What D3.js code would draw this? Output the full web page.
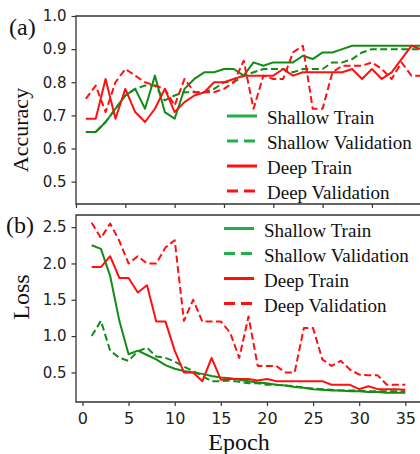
<!DOCTYPE html>
<html>
<head>
<meta charset="utf-8">
<script src="https://cdn.jsdelivr.net/npm/d3@7"></script>
<style>
  html, body { margin: 0; padding: 0; background: #fff; }
  svg { display: block; }
  .tick text { font-family: "DejaVu Sans", sans-serif; fill: #222; }
  .serif { font-family: "Liberation Serif", "Times New Roman", serif; fill: #111; }
</style>
</head>
<body>
<div id="chart"></div>
<script>
// data
const epochs = [1,2,3,4,5,6,7,8,9,10,11,12,13,14,15,16,17,18,19,20,21,22,23,24,25,26,27,28,29,30,31,32,33,34,35];

const accShallowTrain = [0.65,0.65,0.68,0.72,0.76,0.78,0.72,0.82,0.71,0.69,0.78,0.81,0.83,0.83,0.84,0.84,0.82,0.86,0.85,0.86,0.86,0.86,0.88,0.87,0.89,0.89,0.90,0.91,0.91,0.91,0.91,0.91,0.91,0.91,0.91];
const accShallowVal = [0.65,0.65,0.68,0.72,0.76,0.78,0.79,0.79,0.745,0.76,0.77,0.77,0.77,0.78,0.80,0.80,0.82,0.83,0.84,0.84,0.84,0.83,0.84,0.84,0.84,0.86,0.86,0.87,0.89,0.90,0.90,0.90,0.90,0.90,0.90];
const accDeepTrain = [0.69,0.69,0.81,0.69,0.78,0.71,0.68,0.72,0.78,0.71,0.74,0.76,0.77,0.80,0.80,0.81,0.82,0.82,0.82,0.82,0.84,0.82,0.83,0.83,0.83,0.83,0.83,0.84,0.81,0.84,0.81,0.83,0.87,0.91,0.90];
const accDeepVal = [0.75,0.79,0.71,0.80,0.84,0.82,0.80,0.79,0.78,0.73,0.81,0.77,0.77,0.77,0.78,0.80,0.865,0.72,0.82,0.81,0.81,0.89,0.91,0.72,0.72,0.83,0.85,0.85,0.85,0.86,0.84,0.81,0.86,0.82,0.82];

const lossShallowTrain = [2.25,2.2,1.83,1.21,0.75,0.8,0.74,0.68,0.6,0.55,0.52,0.5,0.48,0.45,0.43,0.42,0.4,0.38,0.36,0.35,0.33,0.32,0.3,0.29,0.27,0.26,0.25,0.25,0.24,0.24,0.23,0.23,0.22,0.22,0.22];
const lossShallowVal = [1.0,1.21,0.8,0.7,0.66,0.79,0.84,0.72,0.7,0.65,0.58,0.52,0.45,0.38,0.38,0.39,0.37,0.35,0.35,0.33,0.33,0.32,0.31,0.29,0.28,0.27,0.26,0.25,0.25,0.25,0.24,0.24,0.24,0.24,0.24];
const lossDeepTrain = [1.95,1.95,2.1,1.8,1.8,1.6,1.7,1.2,1.2,0.8,0.5,0.5,0.38,0.7,0.4,0.41,0.41,0.41,0.39,0.41,0.38,0.38,0.38,0.38,0.38,0.38,0.33,0.33,0.33,0.27,0.31,0.27,0.27,0.27,0.26];
const lossDeepVal = [2.56,2.35,2.55,2.31,2.0,2.1,2.0,2.0,2.22,2.32,1.21,1.5,1.2,1.2,1.2,1.05,0.7,1.27,0.59,0.59,0.59,0.5,0.5,1.11,1.11,0.68,0.59,0.66,0.54,0.47,0.46,0.46,0.33,0.33,0.33];

const accTicks = [0.5,0.6,0.7,0.8,0.9,1.0];
const lossTicks = [0.5,1.0,1.5,2.0,2.5];
const epochTicks = [0,5,10,15,20,25,30,35];
const seriesNames = ["Shallow Train","Shallow Validation","Deep Train","Deep Validation"];

const W = 420, H = 454;
const green = "#138c17", red = "#ff1010";
const legendGreen = "#1fb04c";
const styles = [
  {color: green, legend: legendGreen, dash: null},
  {color: green, legend: legendGreen, dash: "7,3.5"},
  {color: red, legend: red, dash: null},
  {color: red, legend: red, dash: "7,3.5"}
];

const svg = d3.select("#chart").append("svg")
  .attr("width", W)
  .attr("height", H);

function panel(opts) {
  const g = svg.append("g");
  const x = d3.scaleLinear().domain(opts.xDomain).range(opts.xRange);
  const y = d3.scaleLinear().domain(opts.yDomain).range(opts.yRange);

  // lines
  const line = d3.line()
    .x((d, i) => x(epochs[i]))
    .y(d => y(d));
  opts.series.forEach((s, i) => {
    g.append("path")
      .datum(s)
      .attr("fill", "none")
      .attr("stroke", styles[i].color)
      .attr("stroke-width", 2)
      .attr("stroke-dasharray", styles[i].dash)
      .attr("stroke-linejoin", "round")
      .attr("d", line);
  });

  // spines
  const x0 = opts.xRange[0], x1 = opts.xRange[1];
  const y0 = opts.yRange[1], y1 = opts.yRange[0];
  g.append("path")
    .attr("d", `M${x1},${y0}H${x0}V${y1}H${x1}V${y0}`)
    .attr("fill", "none")
    .attr("stroke", "#333")
    .attr("stroke-width", 1.3);

  // axes
  const yAxis = d3.axisLeft(y).tickValues(opts.yTicks).tickSize(4.5).tickPadding(5)
    .tickFormat(d3.format(".1f"));
  const gy = g.append("g").attr("transform", `translate(${x0},0)`).call(yAxis);
  gy.select(".domain").remove();
  gy.selectAll(".tick line").attr("stroke", "#333").attr("stroke-width", 1.2);
  gy.selectAll(".tick text").style("font-size", "15px");

  const xAxis = d3.axisBottom(x).tickValues(epochTicks).tickSize(4).tickPadding(7);
  if (!opts.xLabels) xAxis.tickFormat("");
  const gx = g.append("g").attr("transform", `translate(0,${y1})`).call(xAxis);
  gx.select(".domain").remove();
  gx.selectAll(".tick line").attr("stroke", "#333").attr("stroke-width", 1.2);
  gx.selectAll(".tick text").style("font-size", "16px");

  // legend
  const lg = g.append("g").attr("transform", `translate(${opts.legend[0]},${opts.legend[1]})`);
  seriesNames.forEach((name, i) => {
    const row = lg.append("g").attr("transform", `translate(0,${i * 25})`);
    row.append("line")
      .attr("x1", 0).attr("x2", 30)
      .attr("stroke", styles[i].legend)
      .attr("stroke-width", 3)
      .attr("stroke-dasharray", styles[i].dash ? "11,6" : null);
    row.append("text")
      .attr("class", "serif")
      .attr("x", 40).attr("y", 8)
      .style("font-size", "19px")
      .text(name);
  });

  // y label and panel letter
  svg.append("text")
    .attr("class", "serif")
    .attr("transform", `translate(${opts.yLabelX},${opts.yLabelY}) rotate(-90)`)
    .attr("text-anchor", "middle")
    .style("font-size", opts.yLabelSize)
    .text(opts.yLabel);
  svg.append("text")
    .attr("class", "serif")
    .attr("x", opts.letter[0]).attr("y", opts.letter[1])
    .style("font-size", "24px")
    .text(opts.letterText);
}

panel({
  xDomain: [0, 36.7], xRange: [76, 438],
  yDomain: [0.4325, 1.0], yRange: [204, 16],
  yTicks: accTicks,
  series: [accShallowTrain, accShallowVal, accDeepTrain, accDeepVal],
  xLabels: false,
  legend: [227, 116],
  yLabel: "Accuracy", yLabelX: 28, yLabelY: 130, yLabelSize: "22px",
  letter: [9, 35], letterText: "(a)"
});

panel({
  xDomain: [-0.7, 36.7], xRange: [76, 421],
  yDomain: [0.093, 2.667], yRange: [402, 215],
  yTicks: lossTicks,
  series: [lossShallowTrain, lossShallowVal, lossDeepTrain, lossDeepVal],
  xLabels: true,
  legend: [224, 228.5],
  yLabel: "Loss", yLabelX: 29, yLabelY: 297, yLabelSize: "24px",
  letter: [6, 233], letterText: "(b)"
});

svg.append("text")
  .attr("class", "serif")
  .attr("x", 239).attr("y", 450)
  .attr("text-anchor", "middle")
  .style("font-size", "24px")
  .text("Epoch");
</script>
</body>
</html>
